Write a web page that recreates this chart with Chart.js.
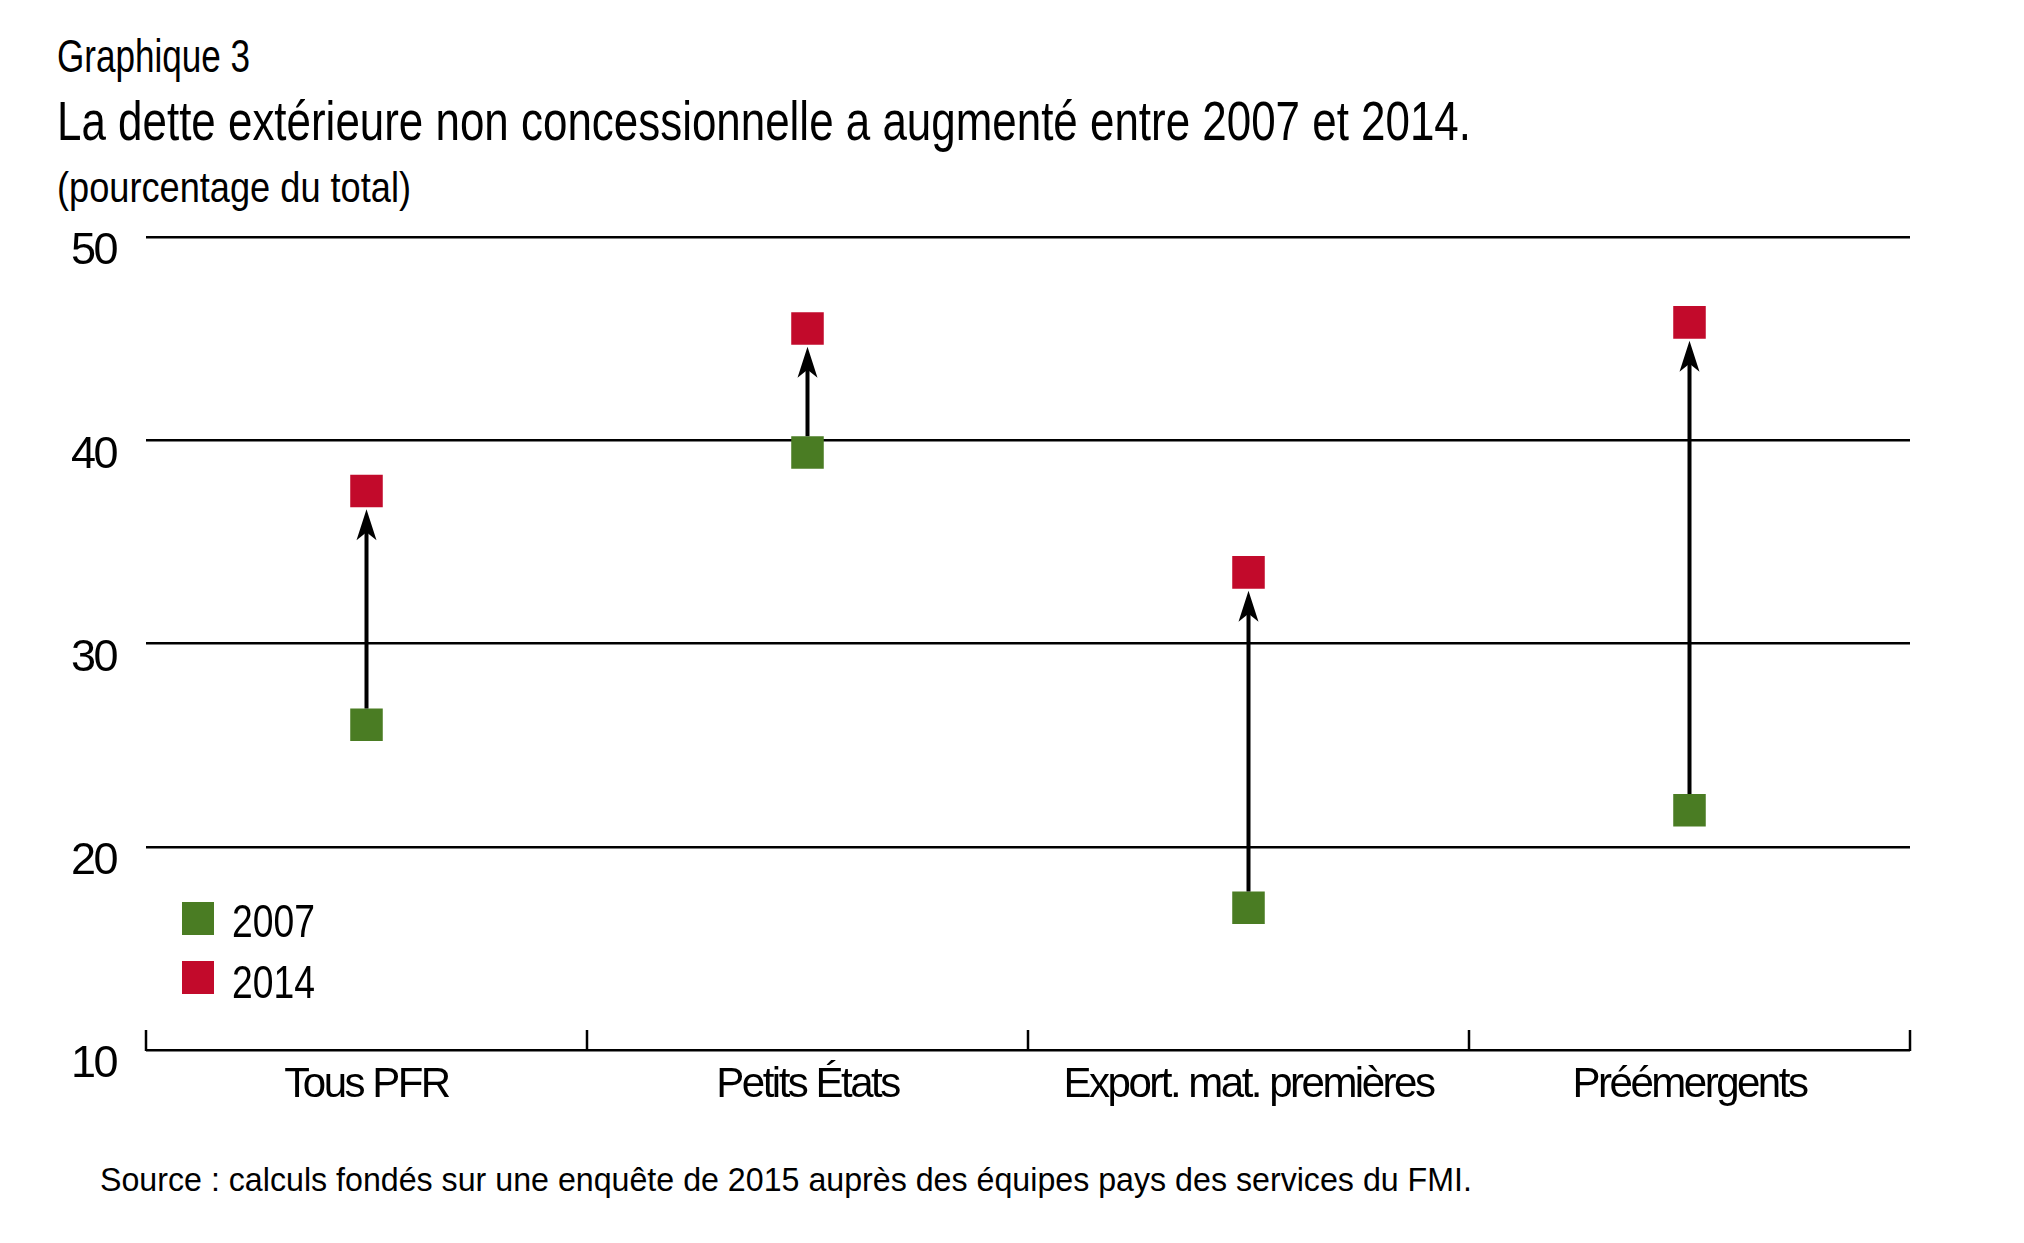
<!DOCTYPE html>
<html lang="fr">
<head>
<meta charset="utf-8">
<title>Graphique 3</title>
<script src="https://cdn.jsdelivr.net/npm/chart.js@4.4.1/dist/chart.umd.min.js"></script>
<style>
  html, body { margin: 0; padding: 0; background: #fff; }
  body {
    width: 2024px; height: 1243px; position: relative; overflow: hidden;
    font-family: "Liberation Sans Narrow", "Arial Narrow", "Liberation Sans", sans-serif;
    color: #000;
  }
  .txt { position: absolute; white-space: nowrap; line-height: 1; transform-origin: 0 0; }
  #graph { position: absolute; left: 0; top: 0; }
  .leg-box { position: absolute; width: 32px; height: 33px; }
</style>
</head>
<body>

<div class="txt" style="left:57px; top:33px; font-size:46px;" data-w="193">Graphique 3</div>
<div class="txt" style="left:57px; top:93px; font-size:56px;" data-w="1414">La dette extérieure non concessionnelle a augmenté entre 2007 et 2014.</div>
<div class="txt" style="left:57px; top:167px; font-size:42px;" data-w="354">(pourcentage du total)</div>
<div class="txt" style="left:100px; top:1162px; font-size:34px;" data-w="1372">Source : calculs fondés sur une enquête de 2015 auprès des équipes pays des services du FMI.</div>

<canvas id="graph" width="2024" height="1243"></canvas>
<div id="legende"></div>

<script>
// =======================
// DONNEES
// =======================
const categories = ["Tous PFR", "Petits États", "Export. mat. premières", "Préémergents"];
const annees = ["2007", "2014"];
const valeurs2007 = [26.0, 39.4, 17.0, 21.8];
const valeurs2014 = [37.5, 45.5, 33.5, 45.8];
const yTicks = [10, 20, 30, 40, 50];

const VERT = "#4a7c23";
const ROUGE = "#c20a2b";
const RAYON = 23; // carré d'environ 33 px
const POLICE = "'Liberation Sans Narrow', 'Liberation Sans', sans-serif";
const ESPACEMENT = "-2.5px"; // resserre les étiquettes (pas de police étroite installée)

// =======================
// TEXTES HTML : ajuster la largeur (police étroite)
// =======================
function ajusterLargeur(el) {
  const w = el.getBoundingClientRect().width;
  const cible = parseFloat(el.dataset.w);
  el.style.transform = "scaleX(" + (cible / w).toFixed(4) + ")";
}
document.querySelectorAll(".txt[data-w]").forEach(ajusterLargeur);

// =======================
// PLUGINS
// =======================
const espacementPlugin = {
  id: "espacement",
  beforeLayout(chart) { chart.ctx.letterSpacing = ESPACEMENT; },
  beforeDraw(chart) { chart.ctx.letterSpacing = ESPACEMENT; }
};

const flechesPlugin = {
  id: "fleches",
  afterDatasetsDraw(chart) {
    const ctx = chart.ctx;
    const bas = chart.getDatasetMeta(0).data;
    const haut = chart.getDatasetMeta(1).data;
    const demi = RAYON * Math.SQRT1_2;
    ctx.save();
    ctx.strokeStyle = "#000";
    ctx.fillStyle = "#000";
    ctx.lineWidth = 4;
    bas.forEach((p, i) => {
      const q = haut[i];
      const x = p.x;
      const y0 = p.y - demi;
      const pointe = q.y + demi + 2;
      ctx.beginPath();
      ctx.moveTo(x, y0);
      ctx.lineTo(x, pointe + 20);
      ctx.stroke();
      ctx.beginPath();
      ctx.moveTo(x, pointe);
      ctx.lineTo(x - 10, pointe + 31);
      ctx.lineTo(x, pointe + 23);
      ctx.lineTo(x + 10, pointe + 31);
      ctx.closePath();
      ctx.fill();
    });
    ctx.restore();
  }
};

const separateursPlugin = {
  id: "separateurs",
  afterDraw(chart) {
    const ctx = chart.ctx;
    const xs = chart.scales.x;
    const yb = chart.chartArea.bottom;
    ctx.save();
    ctx.strokeStyle = "#000";
    ctx.lineWidth = 2.5;
    for (let i = 0; i <= categories.length; i++) {
      const x = Math.round(xs.getPixelForValue(i - 0.5));
      ctx.beginPath();
      ctx.moveTo(x, yb + 1);
      ctx.lineTo(x, yb - 20);
      ctx.stroke();
    }
    ctx.restore();
  }
};

// =======================
// GRAPHIQUE
// =======================
const couleurs = [VERT, ROUGE];
const series = [valeurs2007, valeurs2014];

const chart = new Chart(document.getElementById("graph").getContext("2d"), {
  type: "line",
  data: {
    labels: categories,
    datasets: annees.map((a, i) => ({
      label: a,
      data: series[i],
      showLine: false,
      pointStyle: "rect",
      pointRadius: RAYON,
      pointHoverRadius: RAYON,
      pointBorderWidth: 0,
      backgroundColor: couleurs[i],
      borderColor: couleurs[i]
    }))
  },
  options: {
    responsive: false,
    devicePixelRatio: 1,
    animation: false,
    events: [],
    layout: { padding: { left: 0, right: 114, top: 237, bottom: 113 } },
    plugins: { legend: { display: false }, tooltip: { enabled: false } },
    scales: {
      x: {
        offset: true,
        grid: { display: false },
        border: { display: false },
        ticks: {
          color: "#000",
          padding: 2,
          font: { family: POLICE, size: 42 }
        },
        afterFit: s => { s.height = 80; }
      },
      y: {
        min: 10,
        max: 50,
        afterBuildTicks: s => { s.ticks = yTicks.map(v => ({ value: v })); },
        grid: { color: "#000", lineWidth: 2.5, drawTicks: false },
        border: { display: false },
        ticks: {
          color: "#000",
          padding: 30,
          callback: v => ["", String(v)],
          font: { family: POLICE, size: 45, lineHeight: 0.66 }
        },
        afterFit: s => { s.width = 146; }
      }
    }
  },
  plugins: [espacementPlugin, flechesPlugin, separateursPlugin]
});

// =======================
// LEGENDE
// =======================
const legende = document.getElementById("legende");
const lignes = [{ box: 902, txt: 898 }, { box: 961, txt: 959 }];
chart.data.datasets.forEach((ds, i) => {
  const box = document.createElement("div");
  box.className = "leg-box";
  box.style.left = "182px";
  box.style.top = lignes[i].box + "px";
  box.style.background = ds.backgroundColor;
  legende.appendChild(box);

  const t = document.createElement("div");
  t.className = "txt";
  t.style.left = "232px";
  t.style.top = lignes[i].txt + "px";
  t.style.fontSize = "46px";
  t.dataset.w = "83";
  t.textContent = ds.label;
  legende.appendChild(t);
  ajusterLargeur(t);
});
</script>
</body>
</html>
